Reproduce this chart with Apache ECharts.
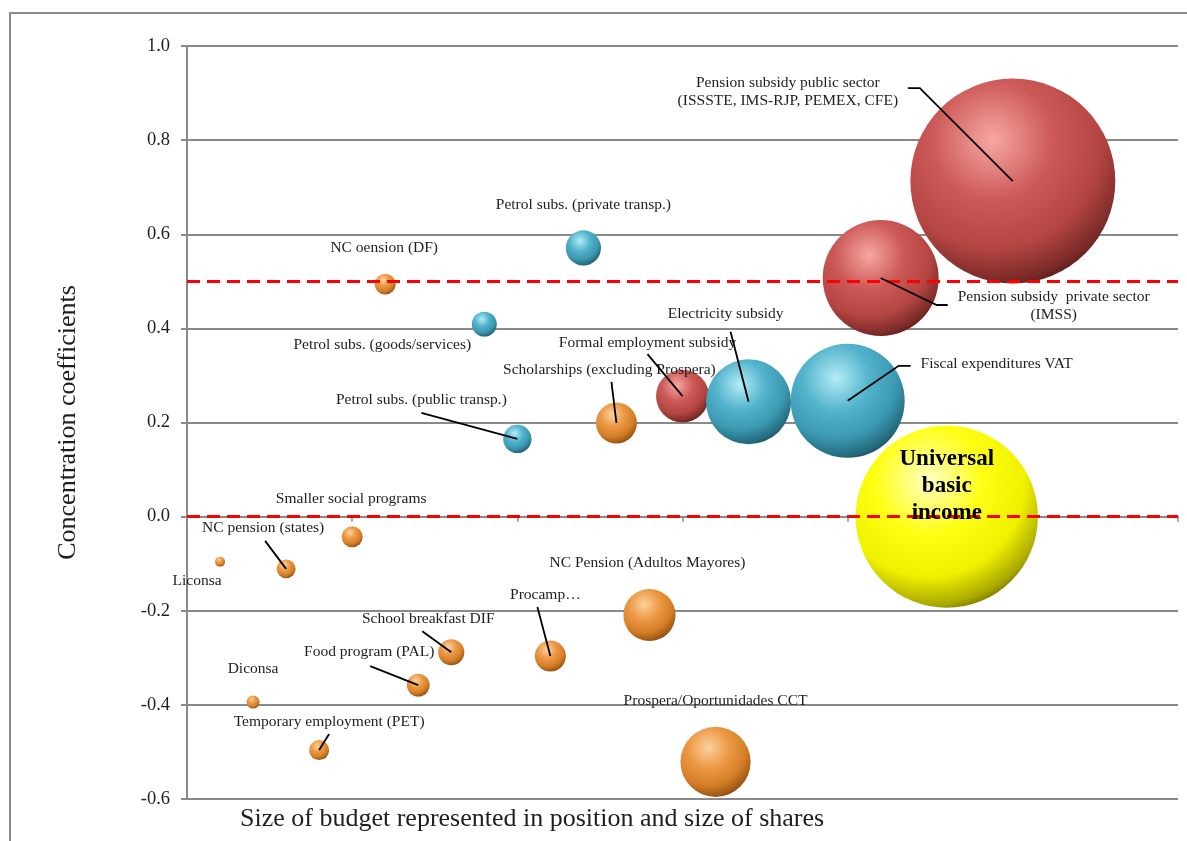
<!DOCTYPE html>
<html>
<head>
<meta charset="utf-8">
<title>Concentration coefficients</title>
<script src="https://cdn.jsdelivr.net/npm/echarts@6/dist/echarts.min.js"></script>
<style>
html, body { margin: 0; padding: 0; background: #fff; }
#main { width: 1187px; height: 841px; }
</style>
</head>
<body>
<div id="main"></div>
<script>
// programmes, in the order they are drawn
var names = [
	'Liconsa', 'NC pension (states)', 'Smaller social programs', 'Diconsa',
	'Temporary employment (PET)', 'Food program (PAL)', 'School breakfast DIF', 'Procamp\u2026',
	'NC Pension (Adultos Mayores)', 'Prospera/Oportunidades CCT', 'NC oension (DF)',
	'Petrol subs. (private transp.)', 'Petrol subs. (goods/services)', 'Petrol subs. (public transp.)',
	'Scholarships (excluding Prospera)', 'Formal employment subsidy', 'Electricity subsidy',
	'Fiscal expenditures VAT', 'Pension subsidy  private sector\n(IMSS)',
	'Pension subsidy public sector\n(ISSSTE, IMS-RJP, PEMEX, CFE)', 'Universal\nbasic\nincome'
];
// position along the (unlabelled) budget axis
var xPos = [0.2, 0.6, 1.0, 0.4, 0.8, 1.4, 1.6, 2.2, 2.8, 3.2, 1.2, 2.4, 1.8, 2.0, 2.6, 3.0, 3.4, 4.0, 4.2, 5.0, 4.6];
// concentration coefficient
var concCoef = [-0.096, -0.111, -0.043, -0.394, -0.496, -0.358, -0.288, -0.296, -0.209, -0.521, 0.494,
	0.571, 0.409, 0.165, 0.199, 0.256, 0.244, 0.246, 0.507, 0.713, 0.0];
// relative budget share (bubble area)
var budget = [0.25, 0.9, 1.1, 0.42, 1.0, 1.3, 1.7, 2.4, 6.8, 12.3, 1.1, 3.1, 1.55, 2.0, 4.2, 7.0, 18.1, 32.5, 33.6, 105, 83];
// colour group
var groups = ['soc', 'soc', 'soc', 'soc', 'soc', 'soc', 'soc', 'soc', 'soc', 'soc', 'soc',
	'sub', 'sub', 'sub', 'soc', 'pen', 'sub', 'sub', 'pen', 'pen', 'ubi'];

var yTicks = [-0.6, -0.4, -0.2, 0.0, 0.2, 0.4, 0.6, 0.8, 1.0];
var refLines = [0.5, 0.0];

// label placement: offset of label centre from the bubble centre, in px
var labelOff = [[-23, 19], [-23, -41], [-1, -38], [0, -33], [10, -28], [-49, -33], [-23, -33], [-5, -61],
	[-2, -52], [0, -61], [-1, -36], [0, -43], [-102, 21], [-96, -39], [-7, -53], [-35, -53], [-23, -88],
	[149, -37], [173, 28], [-225, -89], [0, -31]];
// leader line bends, relative to the bubble centre
var leaderOff = [null, [[-21, -28]], null, null, [[10, -16]], [[-48, -19]], [[-29, -21]], [[-13, -49]],
	null, null, null, null, null, [[-96, -26]], [[-5, -41]], [[-35, -42]], [[-18, -70]],
	[[51, -35], [63, -35]], [[56, 27], [67, 27]], [[-93, -93], [-105, -93]], null];

var serif = '"Liberation Serif", "DejaVu Serif", serif';

// fake 3d ball: highlight up-left, dark rim bottom-right
function sphere(c) {
	return {
		type: 'radial', x: 0.4, y: 0.3, r: 0.78,
		colorStops: [
			{offset: 0, color: c[0]},
			{offset: 0.38, color: c[1]},
			{offset: 0.68, color: c[2]},
			{offset: 0.88, color: c[3]},
			{offset: 1, color: c[4]}
		]
	};
}
var fills = {
	soc: sphere(['#fcd29e', '#ec9844', '#d57f28', '#a05a14', '#5a300a']),
	sub: sphere(['#b4ecf6', '#52b3cc', '#3b98b1', '#236a7c', '#0f3640']),
	pen: sphere(['#f7a7a4', '#cc5957', '#b34542', '#7a2a28', '#3e1312']),
	ubi: sphere(['#ffffc4', '#ffff14', '#f0f000', '#a8a800', '#4a4a00'])
};

var bubbles = [], labels = [];
for (var i = 0; i < names.length; i++) {
	bubbles.push({value: [xPos[i], concCoef[i], budget[i]], name: names[i], itemStyle: {color: fills[groups[i]]}});
	labels.push([xPos[i], concCoef[i]]);
}
// draw the yellow one first so the others sit over it
var order = [20];
for (var k = 0; k < 20; k++) order.push(k);
var bubbleData = order.map(function (j) { return bubbles[j]; });

function renderLabel(params, api) {
	var i = params.dataIndex;
	var c = api.coord([api.value(0), api.value(1)]);
	var kids = [];
	var lead = leaderOff[i];
	if (lead) {
		var pts = [c];
		lead.forEach(function (o) { pts.push([c[0] + o[0], c[1] + o[1]]); });
		kids.push({type: 'polyline', shape: {points: pts}, style: {stroke: '#000', lineWidth: 1.8, fill: null}});
	}
	var isUbi = groups[i] === 'ubi';
	kids.push({
		type: 'text',
		x: c[0] + labelOff[i][0],
		y: c[1] + labelOff[i][1],
		style: {
			text: names[i],
			align: 'center',
			verticalAlign: 'middle',
			fontFamily: serif,
			fontSize: isUbi ? 23 : 15.5,
			fontWeight: isUbi ? 'bold' : 'normal',
			lineHeight: isUbi ? 27 : 18,
			fill: isUbi ? '#000' : '#1e1e1e'
		}
	});
	return {type: 'group', children: kids};
}

var myChart = echarts.init(document.getElementById('main'));
var option = {
	animation: false,
	backgroundColor: '#fff',
	grid: {left: 187, right: 9, top: 46, bottom: 42},
	xAxis: {
		type: 'value', min: 0, max: 6, interval: 1,
		axisLine: {show: true, onZero: true, lineStyle: {color: '#898989', width: 2}},
		axisTick: {show: true, length: 5, lineStyle: {color: '#898989', width: 1.5}},
		axisLabel: {show: false},
		splitLine: {show: false}
	},
	yAxis: {
		type: 'value',
		min: yTicks[0], max: yTicks[yTicks.length - 1], interval: 0.2,
		name: 'Concentration coefficients',
		nameLocation: 'middle',
		nameGap: 106,
		nameTextStyle: {fontFamily: serif, fontSize: 26, color: '#1e1e1e'},
		axisLine: {show: true, lineStyle: {color: '#898989', width: 2}},
		axisTick: {show: true, length: 6, lineStyle: {color: '#898989', width: 2}},
		axisLabel: {
			margin: 17, fontFamily: serif, fontSize: 18.5, color: '#1e1e1e',
			formatter: function (v) { return v.toFixed(1); }
		},
		splitLine: {show: true, lineStyle: {color: '#898989', width: 2}}
	},
	graphic: [
		{type: 'polyline', shape: {points: [[10, 841], [10, 13], [1187, 13]]}, style: {stroke: '#8c8c8c', lineWidth: 2, fill: null}},
		{type: 'text', left: 240, top: 806, style: {text: 'Size of budget represented in position and size of shares', fontFamily: serif, fontSize: 26, fill: '#1e1e1e'}}
	],
	series: [
		{
			type: 'scatter',
			z: 2,
			data: bubbleData,
			itemStyle: {opacity: 1},
			symbolSize: function (val) { return 20 * Math.sqrt(val[2]); }
		},
		{
			type: 'line',
			data: [],
			z: 4,
			markLine: {
				silent: true,
				symbol: 'none',
				label: {show: false},
				lineStyle: {color: '#ff0000', width: 3, type: [13, 7]},
				data: refLines.map(function (v) { return {yAxis: v}; })
			}
		},
		{
			type: 'custom',
			z: 5,
			clip: false,
			renderItem: renderLabel,
			data: labels
		}
	]
};
myChart.setOption(option);
</script>
</body>
</html>
